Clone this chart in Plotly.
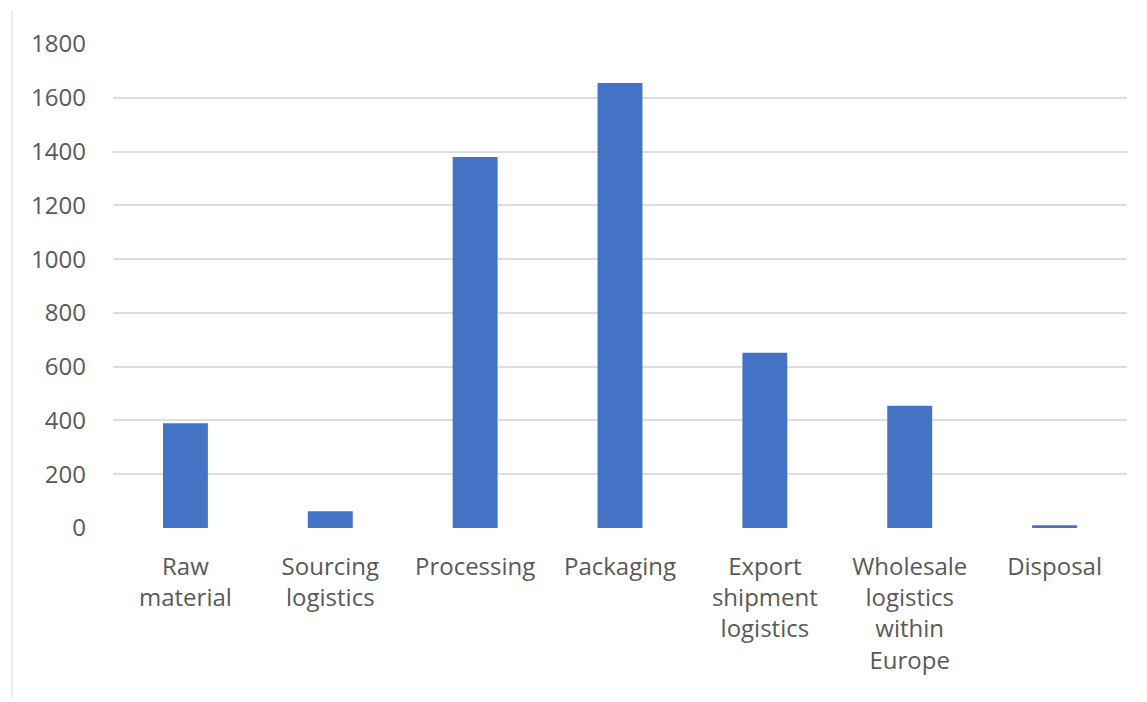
import plotly.graph_objects as go

categories = ["Raw<br>material", "Sourcing<br>logistics", "Processing", "Packaging",
              "Export<br>shipment<br>logistics", "Wholesale<br>logistics<br>within<br>Europe", "Disposal"]
values = [390, 62, 1380, 1655, 652, 455, 10]
y_ticks = [0, 200, 400, 600, 800, 1000, 1200, 1400, 1600, 1800]

fig = go.Figure(go.Bar(x=categories, y=values, marker_color="#4472C4", marker_line_width=0, width=0.31))

font = dict(family="Open Sans", size=24, color="#595959")
fig.update_layout(
    width=1147, height=702,
    margin=dict(l=113, r=20, t=44, b=174),
    plot_bgcolor="white", paper_bgcolor="white",
    showlegend=False,
    font=font,
    xaxis=dict(showgrid=False, showline=False, ticks="", tickfont=font, ticklabelstandoff=22, tickangle=0),
    yaxis=dict(range=[0, 1800], tickvals=y_ticks, showgrid=True, gridcolor="#DDDDDD", gridwidth=1.5,
               zeroline=False, showline=False, ticks="", tickfont=font, ticklabelstandoff=26),
    shapes=[dict(type="line", xref="paper", yref="paper", x0=-0.0995, x1=-0.0995, y0=-0.35, y1=1.07,
                 line=dict(color="#E6E6E6", width=1.5))],
)
fig.write_html("out.html")
